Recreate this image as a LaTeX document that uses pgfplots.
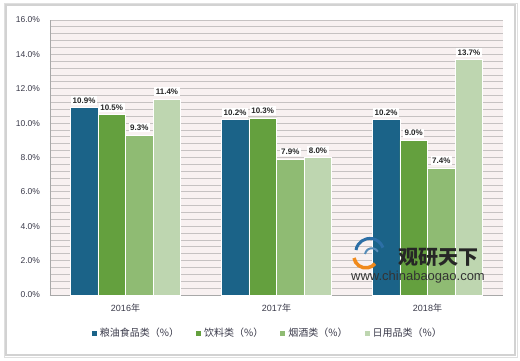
\documentclass[border=0pt]{standalone}
\usepackage{pgfplots}
\pgfplotsset{compat=1.18}
\usepackage{fontspec}
\setmainfont{Liberation Sans}
\newfontfamily\cjk{Noto Sans CJK SC}
\definecolor{c1}{HTML}{1B6388}
\definecolor{c2}{HTML}{64A03E}
\definecolor{c3}{HTML}{8FBB73}
\definecolor{c4}{HTML}{BED6B0}
\definecolor{bgc}{HTML}{F8F1F1}
\definecolor{gridc}{HTML}{C6C2C2}
\definecolor{axc}{HTML}{A8A8A8}
\definecolor{tickc}{HTML}{3A3A4A}
\definecolor{framec}{HTML}{D2D2D2}
\definecolor{logoorange}{HTML}{F08A1C}
\definecolor{logoblue}{HTML}{2C6FA6}
\begin{document}
\begin{tikzpicture}[x=1pt,y=1pt]
\useasboundingbox (0,0) rectangle (520,360);
\fill[white] (0,0) rectangle (520,360);
\draw[framec, line width=2.5pt] (6,5) rectangle (515,355);
\draw[gray!25, line width=0.6pt] (4.2,3.2) rectangle (516.8,356.8);
\begin{axis}[
  at={(50pt,65pt)}, anchor=south west,
  width=453pt, height=275pt, scale only axis,
  xmin=-0.5, xmax=2.5, ymin=0, ymax=16,
  xtick={0,1,2},
  xticklabels={{2016{\cjk 年}},{2017{\cjk 年}},{2018{\cjk 年}}},
  ytick={0,2,...,16},
  minor y tick num=4,
  ymajorgrids, yminorgrids,
  grid style={draw=gridc, line width=0.8pt},
  major grid style={draw=gridc, line width=0.8pt},
  minor grid style={draw=gridc, line width=0.8pt},
  axis background/.style={fill=bgc},
  axis x line*=bottom, axis y line*=left,
  axis line style={-, draw=axc, line width=0.8pt},
  major tick length=0pt, minor tick length=0pt,
  /pgf/number format/assume math mode=true,
  yticklabel={\pgfmathprintnumber[fixed,fixed zerofill,precision=1]{\tick}\%},
  yticklabel style={font=\fontsize{8.5}{9}\selectfont, text=tickc, xshift=-6.5pt},
  xticklabel style={font=\fontsize{9}{10}\selectfont, text=tickc, yshift=-5pt},
  ybar, bar width=0.183,
  every axis plot/.append style={draw=white, line width=0.6pt},
  nodes near coords={\pgfmathprintnumber[fixed,fixed zerofill,precision=1]{\pgfplotspointmeta}\%},
  nodes near coords style={font=\bfseries\fontsize{8}{9}\selectfont, fill=white, inner sep=1.6pt, yshift=2.5pt, text=black!85},
  legend image code/.code={\fill[#1,draw=none] (0pt,-3.5pt) rectangle (5pt,1.5pt);},
  legend style={at={(0.481,-0.138)}, anchor=center, draw=none, fill=none,
    legend columns=4, font=\fontsize{10}{11}\selectfont, text=tickc,
    /tikz/every odd column/.append style={column sep=1pt},
    /tikz/every even column/.append style={column sep=15pt}},
]
\addplot[fill=c1, bar shift=-0.2745] coordinates {(0,10.9) (1,10.2) (2,10.2)};
\addplot[fill=c2, bar shift=-0.0915] coordinates {(0,10.5) (1,10.3) (2,9.0)};
\addplot[fill=c3, bar shift=0.0915] coordinates {(0,9.3) (1,7.9) (2,7.4)};
\addplot[fill=c4, bar shift=0.2745] coordinates {(0,11.4) (1,8.0) (2,13.7)};
\legend{{\cjk 粮油食品类（\%）},{\cjk 饮料类（\%）},{\cjk 烟酒类（\%）},{\cjk 日用品类（\%）}}
\end{axis}
% watermark
\draw[logoblue, line width=3pt] (356,110) arc[start angle=170, end angle=20, radius=14];
\draw[logoblue!80, line width=2pt] (365,106) arc[start angle=170, end angle=30, radius=7];
\draw[logoorange, line width=3.5pt] (354,102) arc[start angle=190, end angle=320, radius=12];
\node[font=\cjk\bfseries\fontsize{20}{22}\selectfont, text=black!85] at (438,103) {观研天下};
\node[font=\fontsize{13}{14}\selectfont, text=black!80] at (418,83) {www.chinabaogao.com};
\end{tikzpicture}
\end{document}
